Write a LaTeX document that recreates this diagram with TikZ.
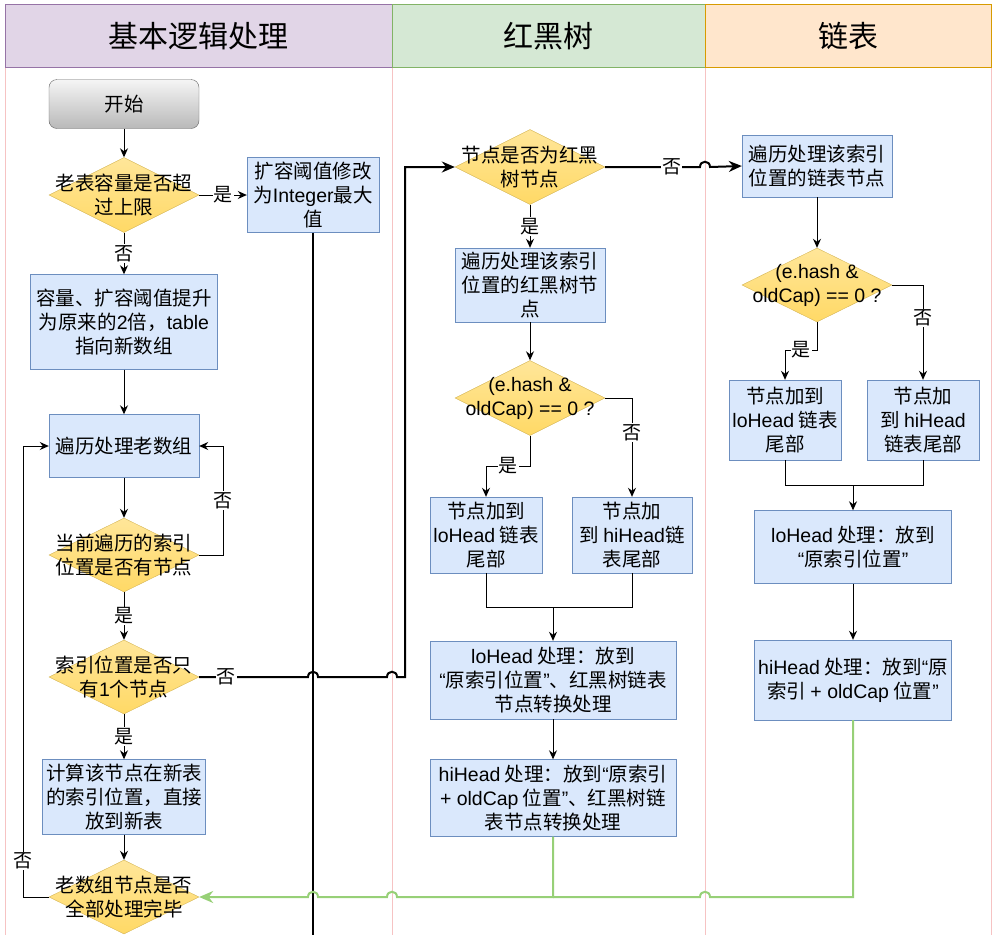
\documentclass[tikz,border=0pt]{standalone}
\usepackage{fontspec}
\setmainfont{Noto Sans CJK SC}
\newfontfamily\latinfont{Liberation Sans}
\newcommand{\en}[1]{{\latinfont #1}}
\usetikzlibrary{shapes.geometric,arrows.meta}

\definecolor{boxfill}{HTML}{DAE8FC}
\definecolor{boxline}{HTML}{6C8EBF}
\definecolor{dectop}{HTML}{FFE699}
\definecolor{decbottom}{HTML}{FFD966}
\definecolor{decline}{HTML}{D6B656}
\definecolor{startline}{HTML}{666666}
\definecolor{flowgreen}{HTML}{97D077}
\definecolor{lanepink}{HTML}{F6C3C3}
\definecolor{basefill}{HTML}{E1D5E7}
\definecolor{baseline}{HTML}{9673A6}
\definecolor{treefill}{HTML}{D5E8D4}
\definecolor{treeline}{HTML}{82B366}
\definecolor{listfill}{HTML}{FFE6CC}
\definecolor{listline}{HTML}{D79B00}

\tikzset{
  lanehead/.style={draw,inner sep=0pt,minimum height=63pt,font=\fontsize{30}{36}\selectfont},
  laneline/.style={draw=lanepink,line width=1pt},
  proc/.style={draw=boxline,fill=boxfill,align=center,inner sep=2pt,font=\fontsize{19.5}{24}\selectfont},
  startbox/.style={draw=startline,top color=gray!8,bottom color=gray!55,rounded corners=8pt,
    minimum width=150pt,minimum height=49pt,font=\fontsize{19.5}{24}\selectfont},
  decision/.style={diamond,draw=decline,top color=dectop,bottom color=decbottom,inner sep=0pt,
    minimum width=150pt,minimum height=75pt},
  dtext/.style={align=center,font=\fontsize{19.5}{24}\selectfont},
  lbl/.style={fill=white,inner sep=1pt,font=\fontsize{19}{22}\selectfont},
  flow/.style={draw,line width=1pt,-{Stealth[length=9pt,width=8pt]}},
  joinline/.style={draw,line width=1pt},
  boldline/.style={draw,line width=2pt},
  boldflow/.style={draw,line width=2pt,-{Stealth[length=13pt,width=11pt]}},
  greenline/.style={draw=flowgreen,line width=2pt},
  greenflow/.style={draw=flowgreen,line width=2pt,-{Stealth[length=14pt,width=12pt]}}
}

\begin{document}
\begin{tikzpicture}[x=1pt,y=-1pt]
\useasboundingbox (0,0) rectangle (993,935);

% lanes
\foreach \x in {5,392,705,991}
  \draw[laneline] (\x,67) -- (\x,935);
\node[lanehead,fill=basefill,draw=baseline,minimum width=387pt] (hbase) at (198.5,36) {基本逻辑处理};
\node[lanehead,fill=treefill,draw=treeline,minimum width=313pt] (htree) at (548.5,36) {红黑树};
\node[lanehead,fill=listfill,draw=listline,minimum width=286pt] (hlist) at (848,36) {链表};

% basic logic
\node[startbox] (start) at (124,104) {开始};
\node[decision,label={[dtext]center:老表容量是否超\\过上限}] (full) at (124,195) {};
\node[proc,minimum width=132pt,minimum height=75pt] (maxval) at (313,195) {扩容阈值修改\\为\en{Integer}最大\\值};
\node[proc,minimum width=187pt,minimum height=95pt] (grow) at (124,322) {容量、扩容阈值提升\\为原来的\en{2}倍，\en{table}\\指向新数组};
\node[proc,minimum width=150pt,minimum height=63pt] (walk) at (124,446) {遍历处理老数组};
\node[decision,minimum height=74pt,label={[dtext]center:当前遍历的索引\\位置是否有节点}] (hasnode) at (124,555) {};
\node[decision,minimum height=74pt,label={[dtext]center:索引位置是否只\\有\en{1}个节点}] (single) at (124,677) {};
\node[proc,minimum width=163pt,minimum height=75pt] (direct) at (124,797) {计算该节点在新表\\的索引位置，直接\\放到新表};
\node[decision,minimum height=74pt,label={[dtext]center:老数组节点是否\\全部处理完毕}] (done) at (124,897) {};
\coordinate (maxend) at (313,935);

% red-black tree
\node[decision,label={[dtext]center:节点是否为红黑\\树节点}] (istree) at (530,167) {};
\node[proc,minimum width=150pt,minimum height=74pt] (treewalk) at (530,285) {遍历处理该索引\\位置的红黑树节\\点};
\node[decision,label={[dtext]center:{\en{(e.hash \&}\\\en{oldCap) == 0 ?}}}] (treehash) at (530,398) {};
\node[proc,minimum width=112pt,minimum height=76pt] (treelo) at (486,535) {节点加到\\\en{loHead} 链表\\尾部};
\node[proc,minimum width=120pt,minimum height=76pt] (treehi) at (632,535) {节点加\\到 \en{hiHead}链\\表尾部};
\node[proc,minimum width=246pt,minimum height=78pt] (treelopos) at (553,680) {\en{loHead} 处理：放到\\\en{“}原索引位置\en{”}、红黑树链表\\节点转换处理};
\node[proc,minimum width=246pt,minimum height=77pt] (treehipos) at (553,798) {\en{hiHead} 处理：放到\en{“}原索引\\\en{+ oldCap} 位置\en{”}、红黑树链\\表节点转换处理};
\coordinate (treejoin) at (553,607);

% linked list
\node[proc,minimum width=150pt,minimum height=62pt] (listwalk) at (817,166) {遍历处理该索引\\位置的链表节点};
\node[decision,minimum height=74pt,label={[dtext]center:{\en{(e.hash \&}\\\en{oldCap) == 0 ?}}}] (listhash) at (817,285) {};
\node[proc,minimum width=112pt,minimum height=80pt] (listlo) at (785,420) {节点加到\\\en{loHead} 链表\\尾部};
\node[proc,minimum width=112pt,minimum height=80pt] (listhi) at (923,420) {节点加\\到 \en{hiHead}\\链表尾部};
\node[proc,minimum width=197pt,minimum height=73pt] (listlopos) at (853,547) {\en{loHead} 处理：放到\\\en{“}原索引位置\en{”}};
\node[proc,minimum width=197pt,minimum height=80pt] (listhipos) at (853,680) {\en{hiHead} 处理：放到\en{“}原\\索引 \en{+ oldCap} 位置\en{”}};
\coordinate (listjoin) at (853,485);
\coordinate (greenjoin) at (553,897);

% connectors, left lane
\draw[flow] (start) -- (full);
\draw[flow] (full) -- node[lbl]{是} (maxval);
\draw[flow] (full) -- node[lbl]{否} (grow);
\draw[flow] (grow) -- (walk);
\draw[flow] (walk) -- (hasnode);
\draw[flow] (hasnode.east) -- (223,555) -- node[lbl]{否} (223,446) -- (walk.east);
\draw[flow] (hasnode) -- node[lbl]{是} (single);
\draw[flow] (single) -- node[lbl]{是} (direct);
\draw[flow] (direct) -- (done);
\draw[flow] (done.west) -- (23,897) -- node[lbl,pos=0.08]{否} (23,446) -- (walk.west);
\draw[boldline] (maxval) -- (maxend);
\draw[boldflow] (single.east) -- node[lbl,pos=0.25]{否} (308,677)
  .. controls +(0,-7) and +(0,-7) .. (318,677) -- (387,677)
  .. controls +(0,-7) and +(0,-7) .. (397,677) -- (405,677) -- (405,167) -- (istree.west);

% connectors, tree lane
\draw[flow] (istree) -- node[lbl]{是} (treewalk);
\draw[boldflow] (istree.east) -- node[lbl,pos=0.7]{否} (700,167)
  .. controls +(0,-7) and +(0,-7) .. (710,167) -- (listwalk.west);
\draw[flow] (treewalk) -- (treehash);
\draw[flow] (treehash.south) -- (530,466) -- node[lbl]{是} (486,466) -- (treelo.north);
\draw[flow] (treehash.east) -- (632,398) -- node[lbl,pos=0.35]{否} (treehi.north);
\draw[joinline] (treelo.south) -- (486,607) -- (632,607) -- (treehi.south);
\draw[flow] (treejoin) -- (treelopos);
\draw[flow] (treelopos) -- (treehipos);

% connectors, list lane
\draw[flow] (listwalk) -- (listhash);
\draw[flow] (listhash.south) -- (817,350) -- node[lbl]{是} (785,350) -- (listlo.north);
\draw[flow] (listhash.east) -- (923,285) -- node[lbl,pos=0.35]{否} (listhi.north);
\draw[joinline] (listlo.south) -- (785,485) -- (923,485) -- (listhi.south);
\draw[flow] (listjoin) -- (listlopos);
\draw[flow] (listlopos) -- (listhipos);

% back to the loop
\draw[greenline] (listhipos.south) -- (853,897) -- (710,897)
  .. controls +(0,-7) and +(0,-7) .. (700,897) -- (greenjoin);
\draw[greenflow] (treehipos.south) -- (greenjoin) -- (397,897)
  .. controls +(0,-7) and +(0,-7) .. (387,897) -- (318,897)
  .. controls +(0,-7) and +(0,-7) .. (308,897) -- (done.east);
\end{tikzpicture}
\end{document}
